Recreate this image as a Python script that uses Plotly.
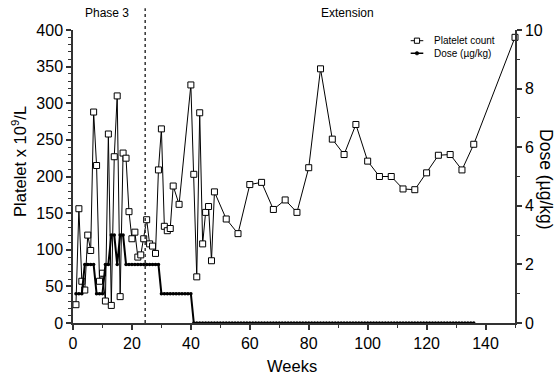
import plotly.graph_objects as go

# ---- data ----
weeks_plt = [1, 2, 3, 4, 5, 6, 7, 8, 9, 10, 11, 12, 13, 14, 15, 16, 17, 18, 19, 20,
             21, 22, 23, 24, 25, 26, 27, 28, 29, 30, 31, 32, 33, 34, 36, 40, 41, 42, 43, 44,
             45, 46, 47, 48, 52, 56, 60, 64, 68, 72, 76, 80, 84, 88, 92, 96, 100, 104, 108, 112,
             116, 120, 124, 128, 132, 136, 150]
platelets = [25, 156, 57, 45, 120, 99, 288, 215, 57, 68, 30, 258, 24, 227, 310, 36, 232, 225, 152, 115,
             124, 90, 93, 115, 141, 108, 105, 95, 209, 265, 132, 126, 129, 187, 162, 325, 203, 63, 287, 108,
             151, 159, 85, 179, 142, 122, 189, 192, 155, 168, 151, 212, 347, 251, 230, 271, 221, 200, 200, 183,
             182, 205, 229, 230, 209, 244, 390]

dose_weeks = [1, 2, 3, 4, 5, 6, 7, 8, 9, 10, 11, 12, 13, 14, 15, 16, 17, 18, 19, 20,
              21, 22, 23, 24, 25, 26, 27, 28, 29, 30, 31, 32, 33, 34, 35, 36, 37, 38, 39, 40,
              41, 42, 43, 44, 45, 46, 47, 48, 49, 50, 51, 52, 53, 54, 55, 56, 57, 58, 59, 60,
              61, 62, 63, 64, 65, 66, 67, 68, 69, 70, 71, 72, 73, 74, 75, 76, 77, 78, 79, 80,
              81, 82, 83, 84, 85, 86, 87, 88, 89, 90, 91, 92, 93, 94, 95, 96, 97, 98, 99, 100,
              101, 102, 103, 104, 105, 106, 107, 108, 109, 110, 111, 112, 113, 114, 115, 116, 117, 118, 119, 120,
              121, 122, 123, 124, 125, 126, 127, 128, 129, 130, 131, 132, 133, 134, 135, 136]
dose = [1, 1, 1, 2, 2, 2, 2, 1, 1, 1, 2, 2, 3, 3, 2, 3, 3, 2, 2, 2,
        2, 2, 2, 2, 2, 2, 2, 2, 2, 1, 1, 1, 1, 1, 1, 1, 1, 1, 1, 1,
        0, 0, 0, 0, 0, 0, 0, 0, 0, 0, 0, 0, 0, 0, 0, 0, 0, 0, 0, 0,
        0, 0, 0, 0, 0, 0, 0, 0, 0, 0, 0, 0, 0, 0, 0, 0, 0, 0, 0, 0,
        0, 0, 0, 0, 0, 0, 0, 0, 0, 0, 0, 0, 0, 0, 0, 0, 0, 0, 0, 0,
        0, 0, 0, 0, 0, 0, 0, 0, 0, 0, 0, 0, 0, 0, 0, 0, 0, 0, 0, 0,
        0, 0, 0, 0, 0, 0, 0, 0, 0, 0, 0, 0, 0, 0, 0, 0]

phase_boundary_week = 24.5
x_ticks = [0, 20, 40, 60, 80, 100, 120, 140]
y_ticks = [0, 50, 100, 150, 200, 250, 300, 350, 400]
y2_ticks = [0, 2, 4, 6, 8, 10]
series_names = ['Platelet count', 'Dose (µg/kg)']

AX = '#333333'
FONT = 'Liberation Sans, Arial, sans-serif'

fig = go.Figure()
fig.add_trace(go.Scatter(
    x=weeks_plt, y=platelets, name=series_names[0], mode='lines+markers',
    line=dict(color='black', width=1),
    marker=dict(symbol='square', size=6, color='white', line=dict(color='black', width=1)),
    cliponaxis=False, showlegend=False))
fig.add_trace(go.Scatter(
    x=dose_weeks, y=dose, name=series_names[1], mode='lines+markers', yaxis='y2',
    line=dict(color='black', width=2),
    marker=dict(symbol='circle', size=3.5, color='black'),
    cliponaxis=False, showlegend=False))

axis_common = dict(showline=True, linecolor=AX, linewidth=1.5, ticks='outside', ticklen=5,
                   tickwidth=1.5, tickcolor=AX, showgrid=False, zeroline=False,
                   tickfont=dict(size=16, family=FONT, color='black'))

fig.update_layout(
    width=557, height=381,
    margin=dict(l=73, r=42, t=30, b=58),
    plot_bgcolor='white', paper_bgcolor='white',
    font=dict(family=FONT, color='black'),
    xaxis=dict(range=[0, 150], tickvals=x_ticks,
               minor=dict(dtick=10, tick0=0, ticks='outside', ticklen=3, tickwidth=1, tickcolor=AX),
               **axis_common),
    yaxis=dict(range=[0, 400], tickvals=y_ticks,
               minor=dict(dtick=10, tick0=0, ticks='outside', ticklen=3, tickwidth=1, tickcolor=AX),
               **axis_common),
    yaxis2=dict(range=[0, 10], tickvals=y2_ticks, overlaying='y', side='right', anchor='x',
                minor=dict(dtick=1, tick0=0, ticks='outside', ticklen=3, tickwidth=1, tickcolor=AX),
                **axis_common),
    showlegend=False,
)

# phase boundary
fig.add_shape(type='line', xref='x', yref='paper', x0=phase_boundary_week, x1=phase_boundary_week,
              y0=0, y1=1.074, line=dict(color=AX, width=1.5, dash='dot'))

# compact legend (top right), drawn in paper coordinates
leg_x0, leg_x1, leg_xt = 0.764, 0.7925, 0.8115
leg_rows = [0.9635, 0.9206]
hx, hy = 2.6 / 442, 2.6 / 293.3
dx, dy = 1.8 / 442, 1.8 / 293.3
xc = (leg_x0 + leg_x1) / 2
fig.add_shape(type='line', xref='paper', yref='paper', x0=leg_x0, x1=leg_x1, y0=leg_rows[0], y1=leg_rows[0],
              line=dict(color='black', width=1))
fig.add_shape(type='rect', xref='paper', yref='paper', x0=xc - hx, x1=xc + hx,
              y0=leg_rows[0] - hy, y1=leg_rows[0] + hy, fillcolor='white', line=dict(color='black', width=1))
fig.add_shape(type='line', xref='paper', yref='paper', x0=leg_x0, x1=leg_x1, y0=leg_rows[1], y1=leg_rows[1],
              line=dict(color='black', width=1.5))
fig.add_shape(type='circle', xref='paper', yref='paper', x0=xc - dx, x1=xc + dx,
              y0=leg_rows[1] - dy, y1=leg_rows[1] + dy, fillcolor='black', line=dict(color='black', width=0.5))
for name, yy in zip(series_names, leg_rows):
    fig.add_annotation(text=name, x=leg_xt, y=yy, xref='paper', yref='paper', showarrow=False,
                       xanchor='left', yanchor='middle', font=dict(size=10, family=FONT, color='black'))

ann_font = dict(family=FONT, color='black')
fig.add_annotation(text='Phase 3', x=11.7, y=1.059, xref='x', yref='paper', showarrow=False,
                   font=dict(size=12, **ann_font), xanchor='center', yanchor='middle')
fig.add_annotation(text='Extension', x=93, y=1.059, xref='x', yref='paper', showarrow=False,
                   font=dict(size=12, **ann_font), xanchor='center', yanchor='middle')
fig.add_annotation(text='Weeks', x=0.496, y=-0.148, xref='paper', yref='paper', showarrow=False,
                   font=dict(size=16.5, **ann_font), xanchor='center', yanchor='middle')
fig.add_annotation(text='Platelet x 10<sup>9</sup>/L', x=-0.122, y=0.55, xref='paper', yref='paper',
                   showarrow=False, textangle=-90,
                   font=dict(size=16.5, **ann_font), xanchor='center', yanchor='middle')
fig.add_annotation(text='Dose (µg/kg)', x=1.07, y=0.488, xref='paper', yref='paper',
                   showarrow=False, textangle=90,
                   font=dict(size=17.5, **ann_font), xanchor='center', yanchor='middle')

fig.write_html('out.html')
